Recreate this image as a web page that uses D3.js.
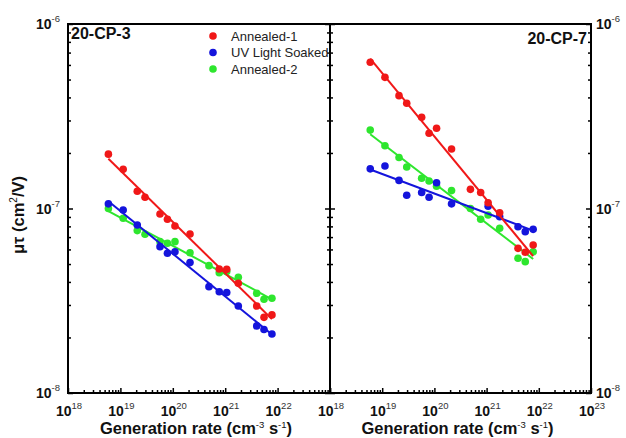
<!DOCTYPE html>
<html><head><meta charset="utf-8">
<script src="https://cdn.jsdelivr.net/npm/d3@7"></script>
<style>body{margin:0;background:#fff}text{font-family:"Liberation Sans",Arial,sans-serif}</style>
</head><body>
<svg id="c" width="626" height="438"></svg>
<script>
// Generation rates (cm^-3 s^-1), shared by all series
const rates=[5.9e18,1.13e19,2.1e19,2.95e19,5.7e19,7.9e19,1.1e20,2.13e20,4.9e20,7.7e20,1.07e21,1.78e21,4.0e21,5.5e21,7.8e21];
const seriesNames=["Annealed-1","UV Light Soaked","Annealed-2"];
const seriesColors=["#f01818","#1414dc","#2ee62e"];
const panelNames=["20-CP-3","20-CP-7"];
// 20-CP-3
const cp3Annealed1=[1.97e-7,1.63e-7,1.24e-7,1.15e-7,9.33e-8,8.74e-8,8.04e-8,7.28e-8,null,4.70e-8,4.68e-8,3.93e-8,2.96e-8,2.57e-8,2.65e-8];
const cp3UV=[1.06e-7,9.82e-8,8.14e-8,null,6.21e-8,5.72e-8,5.83e-8,5.09e-8,3.77e-8,3.54e-8,3.50e-8,2.96e-8,2.31e-8,2.21e-8,2.09e-8];
const cp3Annealed2=[1.00e-7,8.85e-8,7.59e-8,7.25e-8,6.61e-8,6.48e-8,6.61e-8,5.76e-8,4.90e-8,4.49e-8,4.55e-8,4.24e-8,3.47e-8,3.22e-8,3.26e-8];
// 20-CP-7
const cp7Annealed1=[6.2e-7,5.14e-7,4.09e-7,3.72e-7,3.12e-7,2.56e-7,2.72e-7,2.10e-7,1.27e-7,1.22e-7,1.075e-7,9.49e-8,6.08e-8,5.79e-8,6.34e-8];
const cp7UV=[1.64e-7,1.70e-7,1.42e-7,1.18e-7,1.22e-7,1.15e-7,1.38e-7,1.06e-7,null,null,1.03e-7,9.03e-8,7.97e-8,7.49e-8,7.71e-8];
const cp7Annealed2=[2.66e-7,2.19e-7,1.89e-7,1.68e-7,1.46e-7,1.41e-7,1.32e-7,1.25e-7,1.00e-7,8.74e-8,9.22e-8,7.81e-8,5.37e-8,5.15e-8,5.83e-8];
// tick labels
const xTickExps=[18,19,20,21,22,23];
const yTickExps=[-8,-7,-6];

const svg=d3.select("#c");
const plotTop=24,plotBottom=393;
const y=d3.scaleLog().domain([1e-8,1e-6]).range([plotBottom,plotTop]);
const panels=[
  {x0:68,x1:330,data:[cp3Annealed1,cp3UV,cp3Annealed2],name:panelNames[0],labels:[18,19,20,21,22]},
  {x0:330,x1:591,data:[cp7Annealed1,cp7UV,cp7Annealed2],name:panelNames[1],labels:[18,19,20,21,22,23]}
];
const yMinor=[],xMinor=[];
[-8,-7].forEach(d=>{for(let k=2;k<=9;k++)yMinor.push(k*Math.pow(10,d));});
[18,19,20,21,22].forEach(d=>{for(let k=2;k<=9;k++)xMinor.push(k*Math.pow(10,d));});
const xMajor=xTickExps.map(e=>Math.pow(10,e));
const yMajor=yTickExps.map(e=>Math.pow(10,e));

function styleAxis(g){g.select(".domain").remove();g.selectAll("line").attr("stroke","#000").attr("stroke-width",1.5);}
function powLabel(sel,e){
  sel.append("tspan").text("10");
  sel.append("tspan").attr("dy",-7).attr("font-size",9.5).attr("font-weight","normal").attr("fill","#333").text(e);
}

panels.forEach((p,pi)=>{
  const x=d3.scaleLog().domain([1e18,1e23]).range([p.x0,p.x1]);
  const g=svg.append("g");
  g.append("g").attr("transform",`translate(0,${plotBottom})`).call(d3.axisBottom(x).tickValues(xMinor).tickSize(-3).tickFormat("")).call(styleAxis);
  g.append("g").attr("transform",`translate(0,${plotBottom})`).call(d3.axisBottom(x).tickValues(xMajor).tickSize(-5).tickFormat("")).call(styleAxis);
  [[p.x0,d3.axisLeft],[p.x1,d3.axisRight]].forEach(([xx,ax])=>{
    g.append("g").attr("transform",`translate(${xx},0)`).call(ax(y).tickValues(yMinor).tickSize(-3).tickFormat("")).call(styleAxis);
    g.append("g").attr("transform",`translate(${xx},0)`).call(ax(y).tickValues(yMajor).tickSize(-5).tickFormat("")).call(styleAxis);
  });
  g.append("rect").attr("x",p.x0).attr("y",plotTop).attr("width",p.x1-p.x0).attr("height",plotBottom-plotTop)
    .attr("fill","none").attr("stroke","#000").attr("stroke-width",2);
  p.labels.forEach(e=>{
    const t=g.append("text").attr("x",x(Math.pow(10,e))+1).attr("y",416).attr("text-anchor","middle")
      .attr("font-size",14).attr("font-weight","bold").attr("fill","#111");
    powLabel(t,e);
  });
  const cx=(p.x0+p.x1)/2-3;
  const tt=g.append("text").attr("x",cx).attr("y",434).attr("text-anchor","middle").attr("font-size",16.5).attr("font-weight","bold").attr("fill","#111");
  tt.append("tspan").text("Generation rate (cm");
  tt.append("tspan").attr("dy",-6).attr("font-size",9.5).attr("font-weight","normal").text("-3");
  tt.append("tspan").attr("dy",6).text(" s");
  tt.append("tspan").attr("dy",-6).attr("font-size",9.5).attr("font-weight","normal").text("-1");
  tt.append("tspan").attr("dy",6).text(")");
  const order=[2,1,0];
  order.forEach(si=>{
    const vals=p.data[si];
    const pts=rates.map((r,i)=>({r,v:vals[i]})).filter(d=>d.v!=null);
    const lx=pts.map(d=>Math.log10(d.r)),ly=pts.map(d=>Math.log10(d.v));
    const mx=d3.mean(lx),my=d3.mean(ly);
    const b=d3.sum(lx.map((v,i)=>(v-mx)*(ly[i]-my)))/d3.sum(lx.map(v=>(v-mx)*(v-mx)));
    const a=my-b*mx;
    const ends=d3.extent(lx);
    g.selectAll(null).data(pts).join("circle").attr("cx",d=>x(d.r)).attr("cy",d=>y(d.v)).attr("r",3.8).attr("fill",seriesColors[si]);
    g.append("line").attr("x1",x(Math.pow(10,ends[0]))).attr("y1",y(Math.pow(10,a+b*ends[0])))
      .attr("x2",x(Math.pow(10,ends[1]))).attr("y2",y(Math.pow(10,a+b*ends[1])))
      .attr("stroke",seriesColors[si]).attr("stroke-width",2);
  });
});
svg.append("text").attr("x",71).attr("y",39).attr("font-size",16).attr("font-weight","bold").attr("fill","#111").text(panelNames[0]);
svg.append("text").attr("x",587).attr("y",44).attr("text-anchor","end").attr("font-size",16).attr("font-weight","bold").attr("fill","#111").text(panelNames[1]);
yTickExps.forEach(e=>{
  const yy=y(Math.pow(10,e))+5;
  const t=svg.append("text").attr("x",60).attr("y",yy).attr("text-anchor","end").attr("font-size",14).attr("font-weight","bold").attr("fill","#111");
  powLabel(t,e);
  const t2=svg.append("text").attr("x",596).attr("y",yy).attr("font-size",14).attr("font-weight","bold").attr("fill","#111");
  powLabel(t2,e);
});
const yt=svg.append("text").attr("transform","translate(24,215) rotate(-90)").attr("text-anchor","middle").attr("font-size",16.5).attr("font-weight","bold").attr("fill","#111");
yt.append("tspan").text("μτ (cm");
yt.append("tspan").attr("dy",-7).attr("font-size",10).attr("font-weight","normal").text("2");
yt.append("tspan").attr("dy",7).text("/V)");
seriesNames.forEach((n,i)=>{
  const ly=36+i*16.5;
  svg.append("circle").attr("cx",213).attr("cy",ly).attr("r",3.8).attr("fill",seriesColors[i]);
  svg.append("text").attr("x",231).attr("y",ly+4.5).attr("font-size",13).attr("fill","#222").text(n);
});
</script>
</body></html>
